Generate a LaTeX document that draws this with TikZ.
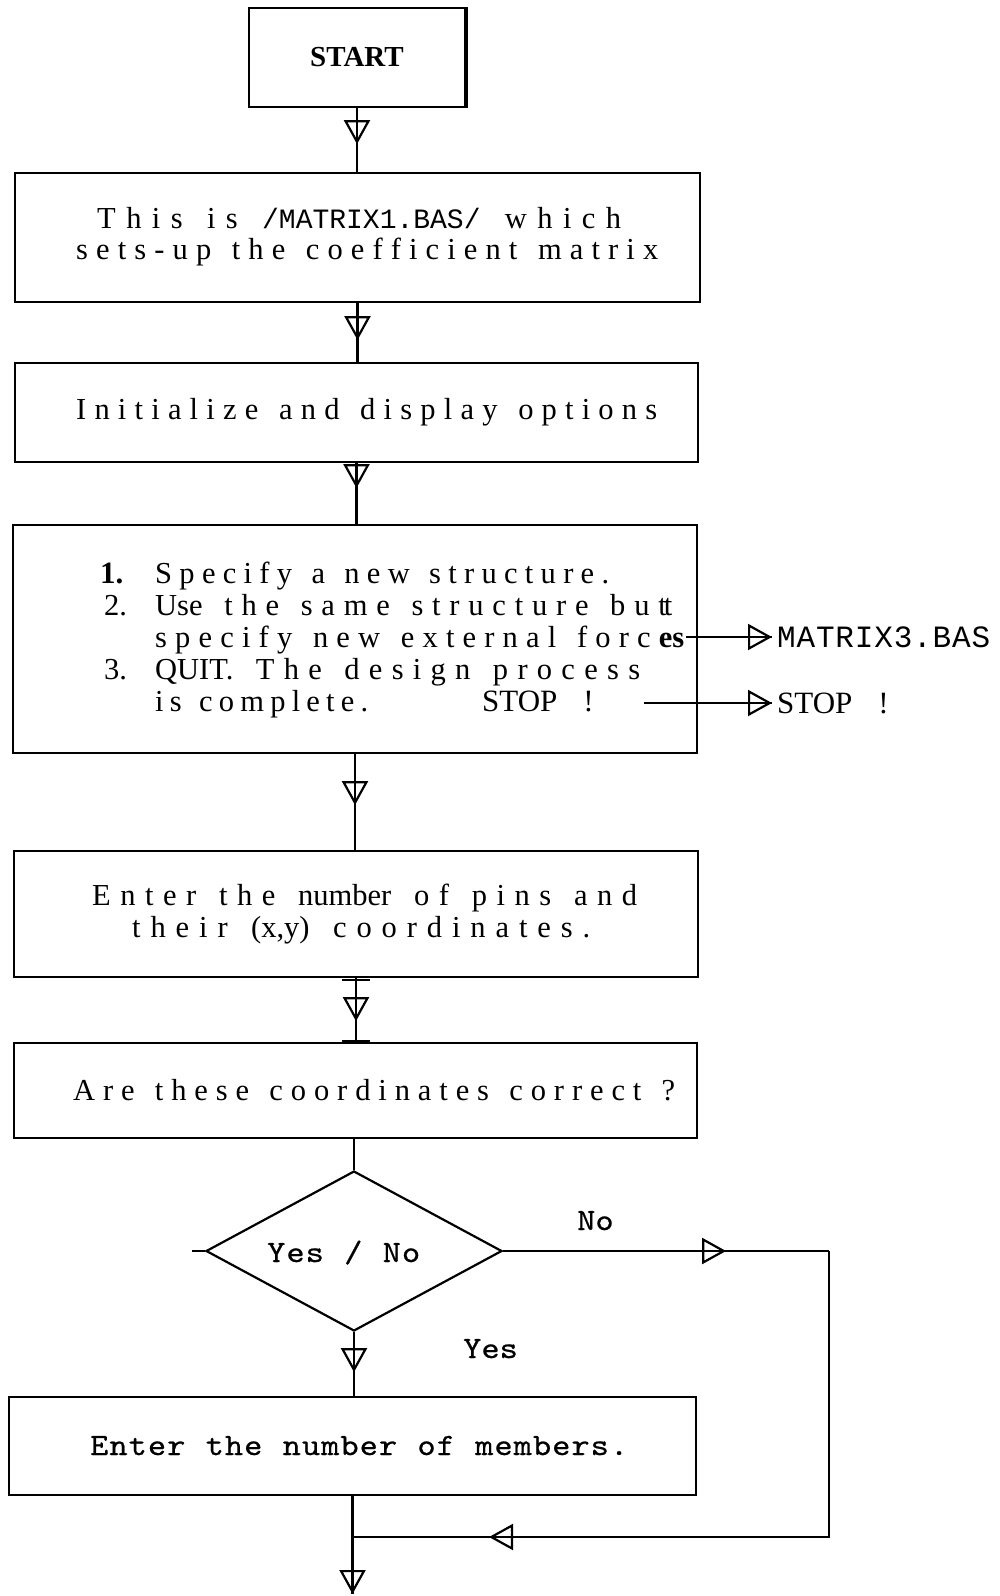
\documentclass[tikz,border=0pt]{standalone}
\usepackage{fontspec}
\setmainfont{Liberation Serif}
\newfontfamily\lgfont{Liberation Mono}
\newfontfamily\courfont{lmmono10-regular.otf}[FakeBold=0.6, FakeStretch=1.12]
\usetikzlibrary{arrows.meta,decorations.markings,shapes.geometric}

% \spread{width}{words}: letter-spaced line justified to the given width.
% A doubly braced word is kept tight; ~ counts as one character cell.
\ExplSyntaxOn
\seq_new:N \l_fc_words_seq
\bool_new:N \l_fc_first_bool
\cs_new_protected:Npn \fc_spread:n #1
  {
    \seq_set_split:Nnn \l_fc_words_seq { ~ } { #1 }
    \bool_set_true:N \l_fc_first_bool
    \seq_map_inline:Nn \l_fc_words_seq
      {
        \bool_if:NF \l_fc_first_bool
          { \skip_horizontal:n { 0.25em plus 1.6fil } }
        \bool_set_false:N \l_fc_first_bool
        \tl_map_inline:nn { ##1 }
          { { ####1 } \skip_horizontal:n { 0pt plus 1fil } }
        \skip_horizontal:n { 0pt plus -1fil }
      }
  }
\NewDocumentCommand \spread { m m }
  { \makebox [#1] [s] { \fc_spread:n {#2} } }
\ExplSyntaxOff

\tikzset{
  panel/.style={draw, rectangle, line width=2.2pt, inner sep=0pt},
  wire/.style={line width=2.2pt},
  midtip/.style={postaction={decorate, decoration={markings,
      mark=at position #1 with {\arrow{Triangle[open,length=24pt,width=26pt]}}}}},
  endtip/.style={midtip=1},
  txt/.style={inner sep=0pt, anchor=base west, font=\fontsize{30.5}{33}\selectfont},
  cour/.style={inner sep=0pt, anchor=base west, font=\courfont\fontsize{31}{34}\selectfont},
}

\begin{document}
\begin{tikzpicture}[x=1pt,y=-1pt]
\useasboundingbox (0,0) rectangle (999,1596);

% process boxes
\node[panel, minimum width=216pt, minimum height=99pt,
      font=\bfseries\fontsize{29}{32}\selectfont] (start) at (357,57.5) {START};
\draw[line width=3.5pt] (start.north east) -- (start.south east);
\node[panel, minimum width=685pt, minimum height=129pt] (setup) at (357.5,237.5) {};
\node[panel, minimum width=683pt, minimum height=99pt] (init) at (356.5,412.5) {};
\node[panel, minimum width=684pt, minimum height=228pt] (menu) at (355,639) {};
\node[panel, minimum width=684pt, minimum height=126pt] (pins) at (356,914) {};
\node[panel, minimum width=683pt, minimum height=95pt] (check) at (355.5,1090.5) {};
\node[draw, diamond, line width=2.2pt, inner sep=0pt,
      minimum width=296pt, minimum height=160pt] (ask) at (354,1251) {};
\node[panel, minimum width=687pt, minimum height=98pt] (members) at (352.5,1446) {};

% box texts
\node[txt] (l2a) at (97,228) {\spread{524pt}{This is {{\lgfont\fontsize{28}{30}\selectfont /MATRIX1.BAS/}} which}};
\node[txt] (l2b) at (76,259) {\spread{582pt}{sets-up the coefficient matrix}};
\node[txt] (l3) at (76,419) {\spread{581pt}{Initialize and display options}};

\node[txt, font=\bfseries\fontsize{31}{33}\selectfont] (k1) at (100,583) {1.};
\node[txt] (o1) at (155,583) {\spread{454pt}{Specify a new structure.}};
\node[txt] (k2) at (104,615) {2.};
\node[txt] (o2) at (155,615) {\spread{517pt}{{{Use}} the same structure bu{t\kern-0.1em t}}};
\node[txt] (o3) at (155,647) {\spread{529pt}{specify new external forc{\textbf{es}}}};
\node[txt] (k3) at (104,679) {3.};
\node[txt] (o4) at (155,679) {\spread{485pt}{{{QUIT.}} The design process}};
\node[txt] (o5) at (155,711) {\spread{213pt}{is complete.}};
\node[txt, font=\fontsize{31}{34}\selectfont] (q1) at (482,711) {STOP\hspace{26pt}!};

\node[anchor=west, inner xsep=5pt, inner ysep=0pt,
      font=\lgfont\fontsize{31}{34}\selectfont] (m3) at (772,637) {\spread{213pt}{MATRIX3.BAS}};
\node[anchor=west, inner xsep=5pt, inner ysep=0pt,
      font=\fontsize{31}{34}\selectfont] (q2) at (772,703) {STOP\hspace{26pt}!};

\node[txt] (p1) at (92,905) {\spread{545pt}{Enter the {{number}} of pins and}};
\node[txt] (p2) at (132,937) {\spread{458pt}{their {{(x,y)}} coordinates.}};
\node[txt] (c1) at (73,1100) {\spread{602pt}{Are these coordinates correct ?}};

\node[cour] (yn) at (267,1262) {\spread{153pt}{Yes~/~No}};
\node[cour] (lno) at (577,1230) {\spread{36pt}{No}};
\node[cour] (lyes) at (463,1358) {\spread{54pt}{Yes}};
\node[cour] (mem) at (90,1455) {\spread{538pt}{Enter~the~number~of~members.}};

% main flow
\draw[wire, midtip=36pt] (start.south) -- (start.south |- setup.north);
\draw[wire, midtip=37pt] (setup.south) -- (setup.south |- init.north);
\draw[wire, midtip=25pt] (init.south) -- (init.south |- menu.north);
\draw[wire, midtip=51pt] (menu.south) -- (menu.south |- pins.north);
\draw[wire, midtip=43pt] (pins.south) -- (pins.south |- check.north);
\draw[wire] (check.south -| ask.north) -- (ask.north);
\draw[wire, midtip=40pt] (ask.south) -- (ask.south |- members.north);
\coordinate (outrow) at (0,1594);
\draw[wire, endtip] (members.south) -- (members.south |- outrow);

% joints where the flow line meets the boxes
\draw[line width=2.5pt] ([xshift=-14pt,yshift=-2pt]pins.south) -- ([xshift=14pt,yshift=-2pt]pins.south);
\draw[line width=4.5pt] ([xshift=-14pt]check.north) -- ([xshift=14pt]check.north);

% side exits of the menu
\coordinate (fr) at (686,637);
\coordinate (qt) at (644,703);
\draw[wire, endtip] (fr) -- (m3.west);
\draw[wire, endtip] (qt) -- (q2.west);

% decision branches
\draw[wire] (ask.west) -- ++(-13,0);
\coordinate (cR1) at (829,1251);
\coordinate (cR2) at (829,1537);
\coordinate (jn) at (members.south |- cR2);
\draw[wire, midtip=223pt] (ask.east) -- (cR1);
\draw[wire, midtip=626pt] (cR1) -- (cR2) -- (jn);
\end{tikzpicture}
\end{document}
